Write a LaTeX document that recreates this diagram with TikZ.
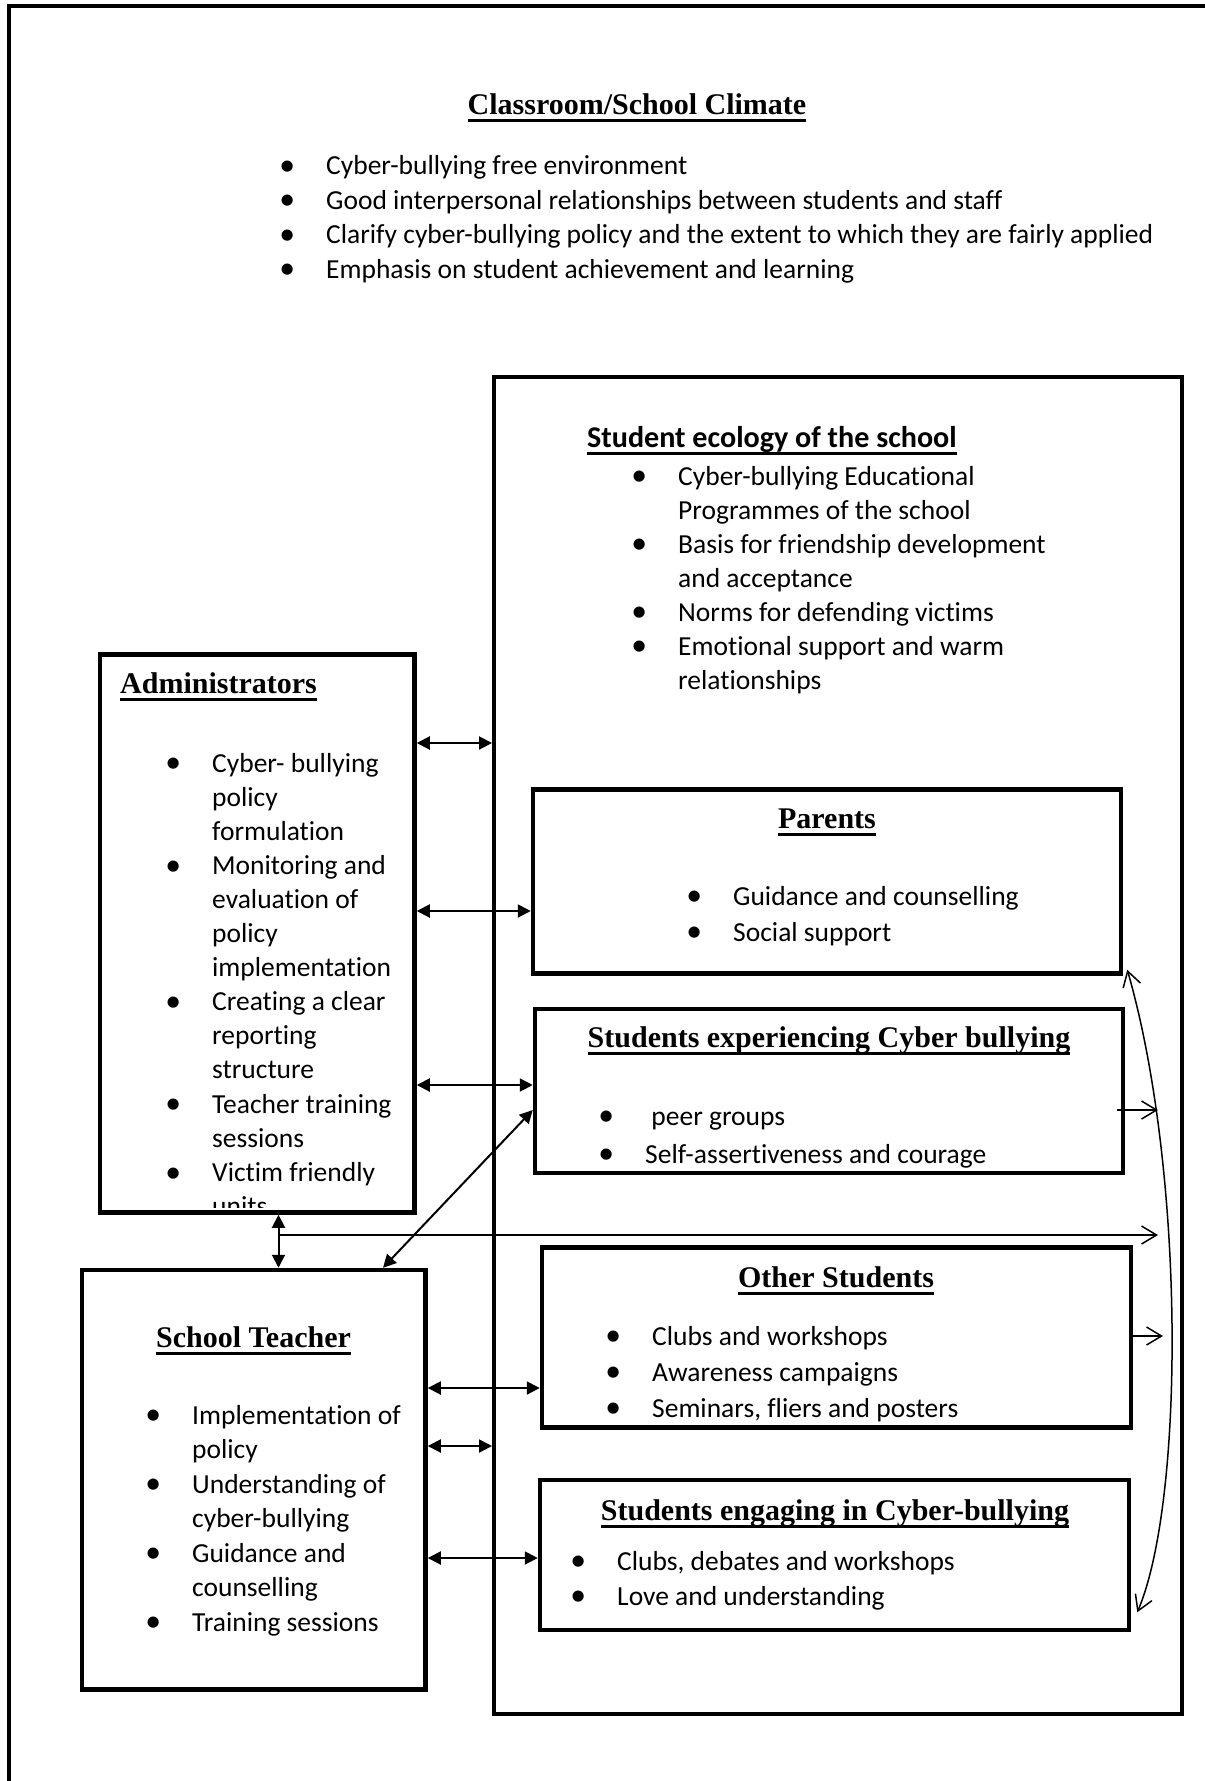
\documentclass[tikz,border=0pt]{standalone}
\usepackage{fontspec}
\setmainfont{Carlito}[Ligatures=NoCommon]
\newfontfamily\serifhead{Liberation Serif}
\usetikzlibrary{arrows.meta}
\setlength{\parindent}{0pt}

\newcommand{\bodysize}[1]{\fontsize{27.5}{#1}\selectfont}
\newcommand{\headline}[1]{\setbox0=\hbox{#1}\rlap{\rule[-7.5pt]{\wd0}{3pt}}\box0}
\newcommand{\bul}{\leavevmode\llap{\makebox[0pt]{\raisebox{-0.8pt}{\scalebox{1.15}{\textbullet}}}\hspace{39pt}}}

\tikzset{
  frame/.style={draw, line width=4.5pt},
  box/.style 2 args={draw, line width=4.5pt, inner sep=0pt, minimum width=#1, minimum height=#2},
  head/.style={font=\serifhead\bfseries\fontsize{30}{36}\selectfont, inner sep=0pt, anchor=base},
  list/.style={font=\bodysize{#1}, text width=900pt, inner sep=0pt, anchor=base west,
    execute at begin node={\spaceskip=\fontdimen2\font\xspaceskip=\fontdimen2\font\relax}},
  twoway/.style={{Triangle[length=13pt,width=13pt]}-{Triangle[length=13pt,width=13pt]}, line width=2pt},
  oneway/.style={-{Straight Barb[length=15pt,width=18pt]}, line width=1.5pt},
  loopback/.style={{Straight Barb[length=15pt,width=18pt]}-{Straight Barb[length=15pt,width=18pt]}, line width=1.5pt}
}

\begin{document}
\begin{tikzpicture}[x=1pt, y=-1pt]
  \useasboundingbox (0,0) rectangle (1205,1781);
  \draw[frame] (9,6) rectangle (1240,1800);

  \node[head] (climate) at (637,114) {\headline{Classroom/School Climate}};
  \node[list=34.5] (climate_list) at (326,174.5) {%
    \bul Cyber-bullying free environment\\
    \bul Good interpersonal relationships between students and staff\\
    \bul Clarify cyber-bullying policy and the extent to which they are fairly applied\\
    \bul Emphasis on student achievement and learning};

  \node[box={688pt}{1337pt}, line width=4pt] (ecology) at (838,1045.5) {};
  \node[font=\bfseries\fontsize{30.1}{36}\selectfont, inner sep=0pt, anchor=base west] (ecology_title) at (587,447) {\headline{Student ecology of the school}};
  \node[list=34] (ecology_list) at (678,485) {%
    \bul Cyber-bullying Educational\\
    Programmes of the school\\
    \bul Basis for friendship development\\
    and acceptance\\
    \bul Norms for defending victims\\
    \bul Emotional support and warm\\
    relationships};

  \node[box={314.5pt}{558pt}] (admin) at (257.25,933.5) {};
  \node[head, anchor=base west] (admin_title) at (120,693) {\headline{Administrators}};
  \begin{scope}
    \clip (admin.north west) rectangle ([yshift=7pt]admin.south east);
    \node[list=34.1] (admin_list) at (212,772) {%
      \bul Cyber- bullying\\
      policy\\
      formulation\\
      \bul Monitoring and\\
      evaluation of\\
      policy\\
      implementation\\
      \bul Creating a clear\\
      reporting\\
      structure\\
      \bul Teacher training\\
      sessions\\
      \bul Victim friendly\\
      units};
  \end{scope}

  \node[box={343.5pt}{419.5pt}] (teacher) at (253.75,1479.75) {};
  \node[head] (teacher_title) at (253.5,1347) {\headline{School Teacher}};
  \node[list=34.5] (teacher_list) at (192,1424) {%
    \bul Implementation of\\
    policy\\
    \bul Understanding of\\
    cyber-bullying\\
    \bul Guidance and\\
    counselling\\
    \bul Training sessions};

  \node[box={588pt}{184pt}] (parents) at (827,881.5) {};
  \node[head] (parents_title) at (827,828) {\headline{Parents}};
  \node[list=36] (parents_list) at (733,905) {%
    \bul Guidance and counselling\\
    \bul Social support};

  \node[box={588pt}{164pt}] (studexp) at (829,1091) {};
  \node[head] (studexp_title) at (829,1047) {\headline{Students experiencing Cyber bullying}};
  \begin{scope}
    \clip (studexp.north west) rectangle ([yshift=7pt]studexp.south east);
    \node[list=38] (studexp_list) at (645,1125) {%
      \bul \ peer groups\\
      \bul Self-assertiveness and courage};
  \end{scope}

  \node[box={589pt}{180pt}] (other) at (836.5,1337.5) {};
  \node[head] (other_title) at (836,1287) {\headline{Other Students}};
  \begin{scope}
    \clip (other.north west) rectangle ([yshift=8pt]other.south east);
    \node[list=36] (other_list) at (652,1345) {%
      \bul Clubs and workshops\\
      \bul Awareness campaigns\\
      \bul Seminars, fliers and posters};
  \end{scope}

  \node[box={589pt}{150pt}] (engaging) at (834.5,1555) {};
  \node[head] (engaging_title) at (835,1520) {\headline{Students engaging in Cyber-bullying}};
  \node[list=35] (engaging_list) at (617,1570) {%
    \bul Clubs, debates and workshops\\
    \bul Love and understanding};

  \coordinate (y_eco) at (0,743);
  \coordinate (y_par) at (0,911);
  \coordinate (y_exp) at (0,1085);
  \coordinate (x_vert) at (278.5,0);
  \coordinate (x_diag) at (383,0);
  \coordinate (y_diag) at (0,1110);
  \coordinate (y_oth) at (0,1388);
  \coordinate (y_eco2) at (0,1446);
  \coordinate (y_eng) at (0,1558);
  \coordinate (h_end) at (1158,1235);
  \coordinate (exp_end) at (1158,1110);
  \coordinate (oth_end) at (1163,1336);

  \draw[twoway] (admin.east |- y_eco) -- (ecology.west |- y_eco);
  \draw[twoway] (admin.east |- y_par) -- (parents.west |- y_par);
  \draw[twoway] (admin.east |- y_exp) -- (studexp.west |- y_exp);
  \draw[twoway] (admin.south -| x_vert) -- (teacher.north -| x_vert);
  \draw[oneway] (x_vert |- h_end) -- (h_end);
  \draw[twoway] (teacher.north -| x_diag) -- (studexp.west |- y_diag);
  \draw[twoway] (teacher.east |- y_oth) -- (other.west |- y_oth);
  \draw[twoway] (teacher.east |- y_eco2) -- (ecology.west |- y_eco2);
  \draw[twoway] (teacher.east |- y_eng) -- (engaging.west |- y_eng);
  \draw[oneway, shorten <=-8pt] (studexp.east |- exp_end) -- (exp_end);
  \draw[oneway] (other.east |- oth_end) -- (oth_end);
  \draw[loopback] ([xshift=4pt,yshift=6pt]parents.south east) .. controls (1185,1170) and (1185,1500) .. ([xshift=6pt,yshift=20pt]engaging.south east);
\end{tikzpicture}
\end{document}
